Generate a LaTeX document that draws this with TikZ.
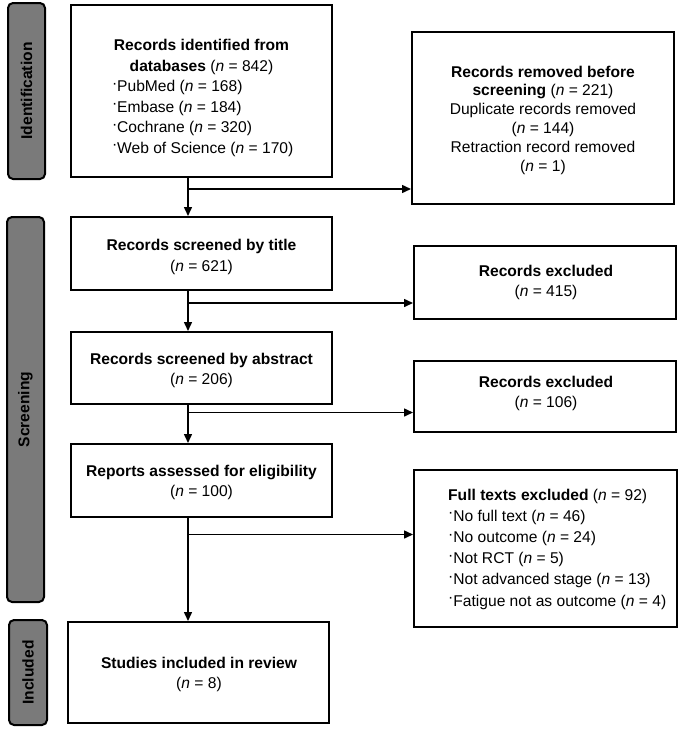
\documentclass[tikz,border=0pt]{standalone}
\usepackage{fontspec}
\setmainfont{Liberation Sans}
\usetikzlibrary{arrows.meta}
\definecolor{barGray}{HTML}{7A7A7A}
\newcommand{\nn}{\textit{n}}
\newcommand{\bul}{\raisebox{0.22em}{·}}
\begin{document}
\begin{tikzpicture}[x=1pt,y=-1pt,
  box/.style={draw=black, line width=2pt, fill=white, inner sep=0pt},
  bar/.style={draw=black, line width=2pt, fill=barGray, rounded corners=5pt, inner sep=0pt},
  barlabel/.style={rotate=90, font=\fontsize{15.6}{18}\selectfont\bfseries, text=black, inner sep=0pt},
  txt/.style={font=\fontsize{15.6}{20.5}\selectfont, align=center, inner sep=0pt},
  arr/.style={line width=1.5pt, -{Triangle[length=9pt,width=8pt]}}]
\useasboundingbox (0,0) rectangle (683,731);
\fill[white] (0,0) rectangle (683,731);

% side bars
\node[bar, minimum width=37pt, minimum height=176pt] (barI) at (26.5,91) {};
\node[barlabel] (labI) at (26.5,91) {Identification};
\node[bar, minimum width=37pt, minimum height=385pt] (barS) at (25.5,409.5) {};
\node[barlabel] (labS) at (25.5,409.5) {Screening};
\node[bar, minimum width=38pt, minimum height=105pt] (barN) at (28,672.5) {};
\node[barlabel] (labN) at (28,672.5) {Included};

% main boxes
\node[box, minimum width=261pt, minimum height=172pt] (b1) at (201.5,91) {};
\node[box, minimum width=262pt, minimum height=172pt] (r1) at (543,118) {};
\node[box, minimum width=261pt, minimum height=73pt] (b2) at (201.5,253.5) {};
\node[box, minimum width=262pt, minimum height=73pt] (r2) at (545,282.5) {};
\node[box, minimum width=261pt, minimum height=72pt] (b3) at (201.5,368) {};
\node[box, minimum width=262pt, minimum height=71pt] (r3) at (545,396.5) {};
\node[box, minimum width=261pt, minimum height=73pt] (b4) at (201.5,480.5) {};
\node[box, minimum width=263pt, minimum height=157pt] (r4) at (545.5,548.5) {};
\node[box, minimum width=261pt, minimum height=101pt] (b5) at (198.5,672.5) {};

% texts
\node[txt] (t1) at (201.5,98) {\textbf{Records identified from}\\
  \textbf{databases} (\nn{} = 842)\\
  \makebox[179pt][l]{\bul PubMed (\nn{} = 168)}\\
  \makebox[179pt][l]{\bul Embase (\nn{} = 184)}\\
  \makebox[179pt][l]{\bul Cochrane (\nn{} = 320)}\\
  \makebox[179pt][l]{\bul Web of Science (\nn{} = 170)}};
\node[txt, font=\fontsize{15.6}{18.8}\selectfont] (tr1) at (543,120) {\textbf{Records removed before}\\
  \textbf{screening} (\nn{} = 221)\\
  Duplicate records removed\\
  (\nn{} = 144)\\
  Retraction record removed\\
  (\nn{} = 1)};
\node[txt, font=\fontsize{15.6}{21}\selectfont] (t2) at (201.5,257) {\textbf{Records screened by title}\\ (\nn{} = 621)};
\node[txt, font=\fontsize{15.6}{19.5}\selectfont] (tr2) at (546,282.5) {\textbf{Records excluded}\\ (\nn{} = 415)};
\node[txt] (t3) at (201.5,370.5) {\textbf{Records screened by abstract}\\ (\nn{} = 206)};
\node[txt] (tr3) at (546,393.5) {\textbf{Records excluded}\\ (\nn{} = 106)};
\node[txt, font=\fontsize{15.6}{19.5}\selectfont] (t4) at (201.5,482.5) {\textbf{Reports assessed for eligibility}\\ (\nn{} = 100)};
\node[txt, align=left, anchor=west, font=\fontsize{15.6}{21.2}\selectfont] (tr4) at (448,549) {\textbf{Full texts excluded} (\nn{} = 92)\\
  \bul No full text (\nn{} = 46)\\
  \bul No outcome (\nn{} = 24)\\
  \bul Not RCT (\nn{} = 5)\\
  \bul Not advanced stage (\nn{} = 13)\\
  \bul Fatigue not as outcome (\nn{} = 4)};
\node[txt] (t5) at (199,674.5) {\textbf{Studies included in review}\\ (\nn{} = 8)};

% connectors
\coordinate (tx) at (188,0);
\coordinate (j1) at (188,189);
\coordinate (j2) at (188,303);
\coordinate (j3) at (188,412.5);
\coordinate (j4) at (188,534.5);
\draw[arr] (b1.south -| tx) -- (b2.north -| tx);
\draw[arr] (j1) -- (j1 -| r1.west);
\draw[arr] (b2.south -| tx) -- (b3.north -| tx);
\draw[arr] (j2) -- (j2 -| r2.west);
\draw[arr] (b3.south -| tx) -- (b4.north -| tx);
\draw[arr] (j3) -- (j3 -| r3.west);
\draw[arr] (b4.south -| tx) -- (b5.north -| tx);
\draw[arr] (j4) -- (j4 -| r4.west);
\end{tikzpicture}
\end{document}
